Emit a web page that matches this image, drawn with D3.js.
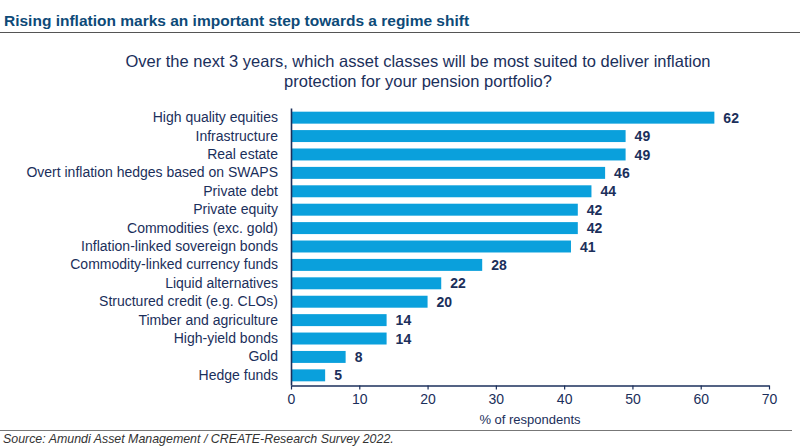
<!DOCTYPE html>
<html>
<head>
<meta charset="utf-8">
<script src="https://cdn.jsdelivr.net/npm/d3@7"></script>
<style>
  html, body { margin: 0; padding: 0; background: #fff; }
  svg { display: block; font-family: "Liberation Sans", Arial, sans-serif; }
</style>
</head>
<body>
<svg id="chart" width="800" height="447"></svg>
<script>
const categories = [
  "High quality equities",
  "Infrastructure",
  "Real estate",
  "Overt inflation hedges based on SWAPS",
  "Private debt",
  "Private equity",
  "Commodities (exc. gold)",
  "Inflation-linked sovereign bonds",
  "Commodity-linked currency funds",
  "Liquid alternatives",
  "Structured credit (e.g. CLOs)",
  "Timber and agriculture",
  "High-yield bonds",
  "Gold",
  "Hedge funds"
];
const values = [62, 49, 49, 46, 44, 42, 42, 41, 28, 22, 20, 14, 14, 8, 5];
const xTicks = [0, 10, 20, 30, 40, 50, 60, 70];

const title = "Rising inflation marks an important step towards a regime shift";
const question = ["Over the next 3 years, which asset classes will be most suited to deliver inflation",
                  "protection for your pension portfolio?"];
const axisTitle = "% of respondents";
const source = "Source: Amundi Asset Management / CREATE-Research Survey 2022.";

const navy = "#1b2f5b";
const barColor = "#0aa0dc";
const svg = d3.select("#chart");

// Header
svg.append("text").attr("x", 4).attr("y", 26)
  .attr("font-size", 15.5).attr("font-weight", "bold").attr("fill", "#0d4a78")
  .text(title);
svg.append("line").attr("x1", 0).attr("x2", 800).attr("y1", 32.5).attr("y2", 32.5)
  .attr("stroke", "#555").attr("stroke-width", 1.2);

// Question
svg.selectAll("text.q").data(question).enter().append("text")
  .attr("class", "q")
  .attr("x", 418).attr("y", (d, i) => 67 + i * 20)
  .attr("text-anchor", "middle").attr("font-size", 16.5).attr("fill", navy)
  .text(d => d);

const x = d3.scaleLinear().domain([0, 70]).range([291, 769]);
const y = d3.scaleBand().domain(categories).range([108, 385])
  .paddingInner(0.35).paddingOuter(0.2);

// Bars
svg.selectAll("rect.bar").data(values).enter().append("rect")
  .attr("class", "bar")
  .attr("x", x(0))
  .attr("y", (d, i) => y(categories[i]))
  .attr("width", d => x(d) - x(0))
  .attr("height", y.bandwidth())
  .attr("fill", barColor);

// Value labels
svg.selectAll("text.val").data(values).enter().append("text")
  .attr("class", "val")
  .attr("x", d => x(d) + 9)
  .attr("y", (d, i) => y(categories[i]) + y.bandwidth() / 2)
  .attr("dy", "0.36em")
  .attr("font-size", 14).attr("font-weight", "bold").attr("fill", navy)
  .text(d => d);

// Y axis
const yAxis = svg.append("g").attr("transform", `translate(${x(0)},0)`)
  .call(d3.axisLeft(y).tickSize(0).tickPadding(13));
yAxis.select(".domain").attr("stroke", navy).attr("stroke-width", 1.6);
yAxis.selectAll("text").attr("font-size", 14).attr("fill", navy)
  .attr("font-family", "Liberation Sans, Arial, sans-serif");

// X axis
const xAxis = svg.append("g").attr("transform", `translate(0,385.5)`)
  .call(d3.axisBottom(x).tickValues(xTicks).tickSize(4).tickSizeOuter(0).tickPadding(5));
xAxis.select(".domain").attr("stroke", navy).attr("stroke-width", 1.6);
xAxis.selectAll(".tick line").attr("stroke", navy).attr("stroke-width", 1.2);
xAxis.selectAll("text").attr("font-size", 14).attr("fill", navy)
  .attr("font-family", "Liberation Sans, Arial, sans-serif");

svg.append("text").attr("x", x(35)).attr("y", 424)
  .attr("text-anchor", "middle").attr("font-size", 13).attr("fill", navy)
  .text(axisTitle);

// Footer
svg.append("line").attr("x1", 0).attr("x2", 792).attr("y1", 430.5).attr("y2", 430.5)
  .attr("stroke", "#777").attr("stroke-width", 1.2);
svg.append("text").attr("x", 3).attr("y", 443)
  .attr("font-size", 12.4).attr("font-style", "italic").attr("fill", "#333")
  .text(source);
</script>
</body>
</html>
